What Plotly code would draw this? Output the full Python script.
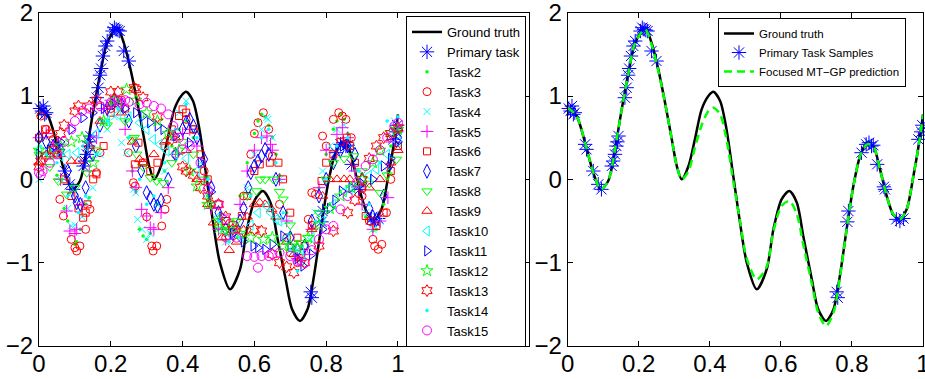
import plotly.graph_objects as go

# ---------------- data ----------------
gt_x = [0, 0.025, 0.049, 0.072, 0.093, 0.114, 0.133, 0.152, 0.171, 0.19, 0.218, 0.236, 0.255, 0.274, 0.293,
        0.307, 0.321, 0.34, 0.358, 0.377, 0.396, 0.41, 0.429, 0.447, 0.466, 0.485, 0.504, 0.532, 0.56, 0.579,
        0.602, 0.624, 0.645, 0.663, 0.687, 0.705, 0.727, 0.748, 0.766, 0.785, 0.804, 0.823, 0.842, 0.86, 0.879,
        0.898, 0.916, 0.935, 0.954, 0.973, 0.992, 1.0]
gt_y = [0.86, 0.76, 0.44, 0.08, -0.12, -0.02, 0.36, 0.84, 1.28, 1.64, 1.82, 1.64, 1.32, 0.92, 0.48,
        0.16, 0.0, 0.16, 0.48, 0.84, 1.0, 1.05, 0.94, 0.6, 0.04, -0.52, -1.0, -1.32, -1.08, -0.6,
        -0.24, -0.14, -0.28, -0.68, -1.2, -1.56, -1.70, -1.56, -1.16, -0.6, -0.08, 0.28, 0.44, 0.4, 0.12,
        -0.2, -0.42, -0.48, -0.36, 0.04, 0.52, 0.78]
pred_y = [0.86, 0.76, 0.44, 0.08, -0.12, -0.02, 0.36, 0.84, 1.28, 1.64, 1.80, 1.62, 1.30, 0.92, 0.48,
          0.16, 0.0, 0.10, 0.38, 0.65, 0.82, 0.86, 0.78, 0.48, -0.02, -0.5, -0.95, -1.2, -1.05, -0.62,
          -0.32, -0.26, -0.42, -0.78, -1.25, -1.6, -1.76, -1.6, -1.18, -0.6, -0.08, 0.28, 0.42, 0.4, 0.12,
          -0.2, -0.42, -0.48, -0.36, 0.04, 0.52, 0.78]

prim_x = [0.003, 0.008, 0.012, 0.016, 0.02, 0.049, 0.053, 0.072, 0.086, 0.095, 0.124, 0.128, 0.133, 0.137,
          0.14, 0.143, 0.161, 0.166, 0.17, 0.173, 0.178, 0.185, 0.19, 0.205, 0.21, 0.215, 0.22, 0.225, 0.236,
          0.25, 0.757, 0.76, 0.787, 0.79, 0.827, 0.84, 0.848, 0.855, 0.86, 0.871, 0.89, 0.893, 0.925, 0.935,
          0.945, 0.987, 0.995, 0.998]
prim_y = [0.85, 0.82, 0.88, 0.78, 0.80, 0.42, 0.36, 0.10, -0.06, -0.12, 0.16, 0.22, 0.30, 0.40,
          0.45, 0.52, 0.98, 1.10, 1.25, 1.33, 1.48, 1.60, 1.66, 1.78, 1.82, 1.80, 1.79, 1.78, 1.54,
          1.42, -1.35, -1.42, -0.51, -0.38, 0.32, 0.42, 0.44, 0.40, 0.41, 0.18, -0.09, -0.12, -0.48, -0.50,
          -0.47, 0.48, 0.57, 0.65]

t2_x = [0.0, 0.01, 0.03, 0.05, 0.07, 0.08, 0.1, 0.105, 0.115, 0.13, 0.14, 0.16, 0.18, 0.2, 0.22, 0.24, 0.26, 0.27,
        0.28, 0.29, 0.3, 0.31, 0.33, 0.35, 0.37, 0.39, 0.41, 0.43, 0.45, 0.47, 0.5, 0.52, 0.54, 0.56, 0.58, 0.6,
        0.61, 0.62, 0.63, 0.64, 0.65, 0.66, 0.67, 0.69, 0.7, 0.72, 0.74, 0.76, 0.78, 0.8, 0.82, 0.83, 0.84, 0.85,
        0.86, 0.88, 0.9, 0.91, 0.93, 0.94, 0.96, 0.97, 0.98, 1.0]
t2_y = [0.45, 0.5, 0.4, 0.05, -0.35, -0.5, -0.78, -0.75, -0.6, -0.3, -0.22, 0.3, 0.7, 0.92, 0.95, 0.7, 0.1, -0.15,
        -0.6, -0.68, -0.72, -0.65, -0.3, 0.1, 0.4, 0.6, 0.7, 0.5, 0.15, -0.2, -0.5, -0.6, -0.5, -0.2, 0.2, 0.55,
        0.7, 0.78, 0.75, 0.65, 0.5, 0.3, 0.05, -0.4, -0.65, -0.95, -0.9, -0.6, -0.1, 0.3, 0.6, 0.7, 0.78, 0.72,
        0.55, 0.1, -0.3, -0.45, -0.62, -0.6, -0.3, 0.0, 0.4, 0.6]

t3_x = [0.005, 0.02, 0.04, 0.058, 0.068, 0.09, 0.1, 0.105, 0.114, 0.13, 0.142, 0.16, 0.17, 0.2, 0.23, 0.249, 0.263,
        0.268, 0.3, 0.314, 0.318, 0.328, 0.342, 0.351, 0.356, 0.38, 0.41, 0.43, 0.46, 0.48, 0.5, 0.52, 0.55, 0.57,
        0.59, 0.6, 0.61, 0.625, 0.64, 0.65, 0.67, 0.69, 0.7, 0.72, 0.73, 0.75, 0.76, 0.77, 0.79, 0.8, 0.82, 0.835,
        0.845, 0.855, 0.87, 0.9, 0.92, 0.93, 0.935, 0.945, 0.955, 0.968, 0.98, 1.0]
t3_y = [0.76, 0.6, 0.48, -0.24, -0.44, -0.72, -0.82, -0.86, -0.8, -0.6, -0.36, 0.08, 0.32, 0.85, 0.95, 0.32, -0.04,
        -0.08, -0.45, -0.8, -0.86, -0.8, -0.56, -0.36, -0.24, 0.3, 0.72, 0.6, 0.1, -0.3, -0.55, -0.7, -0.6, -0.2,
        0.3, 0.55, 0.68, 0.8, 0.6, 0.28, -0.3, -0.7, -0.88, -1.0, -0.98, -0.48, -0.16, -0.18, 0.52, 0.4, 0.72, 0.8,
        0.76, 0.72, 0.5, -0.2, -0.5, -0.72, -0.8, -0.84, -0.78, -0.4, 0.0, 0.6]

t4_x = [0.0, 0.02, 0.04, 0.06, 0.08, 0.09, 0.1, 0.12, 0.137, 0.15, 0.17, 0.19, 0.21, 0.23, 0.244, 0.263, 0.27, 0.275,
        0.287, 0.3, 0.31, 0.33, 0.35, 0.37, 0.39, 0.41, 0.43, 0.45, 0.48, 0.5, 0.52, 0.55, 0.58, 0.6, 0.62, 0.634,
        0.638, 0.65, 0.67, 0.69, 0.71, 0.73, 0.75, 0.77, 0.79, 0.81, 0.83, 0.85, 0.87, 0.89, 0.91, 0.93, 0.95,
        0.97, 0.99]
t4_y = [0.0, 0.35, 0.3, 0.0, -0.35, -0.56, -0.55, -0.45, -0.24, -0.1, 0.3, 0.6, 0.75, 0.44, 0.32, -0.12, -0.16,
        -0.48, -0.6, -0.72, -0.65, -0.3, 0.1, 0.5, 0.8, 0.94, 0.6, 0.2, -0.3, -0.6, -0.75, -0.6, -0.1, 0.3, 0.6,
        0.74, 0.72, 0.5, 0.0, -0.5, -0.85, -1.0, -0.8, -0.4, 0.1, 0.4, 0.6, 0.65, 0.4, 0.0, -0.4, -0.6, -0.5,
        0.1, 0.7]

t5_x = [0.0, 0.02, 0.04, 0.06, 0.077, 0.086, 0.1, 0.105, 0.12, 0.14, 0.16, 0.18, 0.2, 0.22, 0.24, 0.26, 0.27,
        0.286, 0.3, 0.31, 0.32, 0.34, 0.36, 0.38, 0.4, 0.42, 0.44, 0.46, 0.48, 0.5, 0.52, 0.54, 0.56, 0.58, 0.6,
        0.62, 0.635, 0.645, 0.65, 0.67, 0.69, 0.71, 0.72, 0.74, 0.76, 0.78, 0.8, 0.83, 0.845, 0.86, 0.88, 0.9,
        0.93, 0.95, 0.972, 0.99]
t5_y = [0.5, 0.55, 0.4, 0.0, -0.38, -0.62, -0.65, -0.6, -0.3, 0.1, 0.5, 0.85, 0.95, 0.9, 0.6, 0.1, -0.1,
        -0.36, -0.44, -0.58, -0.6, -0.4, -0.1, 0.3, 0.55, 0.6, 0.4, 0.0, -0.35, -0.6, -0.72, -0.6, -0.3, 0.1, 0.35,
        0.5, 0.52, 0.42, 0.35, 0.0, -0.5, -0.85, -0.95, -0.9, -0.6, -0.1, 0.35, 0.54, 0.62, 0.5, 0.1, -0.3,
        -0.6, -0.5, -0.22, 0.45]

t6_x = [0.0, 0.017, 0.03, 0.05, 0.07, 0.09, 0.11, 0.123, 0.13, 0.135, 0.151, 0.16, 0.18, 0.2, 0.22, 0.24, 0.267,
        0.277, 0.29, 0.31, 0.33, 0.35, 0.37, 0.39, 0.4, 0.41, 0.43, 0.45, 0.47, 0.5, 0.52, 0.54, 0.565, 0.58, 0.6,
        0.615, 0.643, 0.667, 0.68, 0.7, 0.72, 0.74, 0.76, 0.787, 0.8, 0.82, 0.84, 0.857, 0.866, 0.88, 0.9, 0.91,
        0.925, 0.94, 0.96, 0.98, 1.0]
t6_y = [0.5, 0.6, 0.55, 0.3, 0.0, -0.2, -0.35, -0.46, -0.4, -0.3, 0.0, 0.06, 0.4, 0.8, 0.95, 0.85, 0.18,
        0.44, 0.2, 0.1, 0.2, 0.4, 0.6, 0.76, 0.84, 0.8, 0.6, 0.3, 0.0, -0.3, -0.5, -0.55, -0.44, -0.2, 0.1,
        0.18, 0.2, 0.2, 0.0, -0.4, -0.7, -0.8, -0.55, -0.02, 0.2, 0.3, 0.45, 0.5, 0.4, 0.2, -0.1, -0.44,
        -0.5, -0.56, -0.4, 0.1, 0.4]

t7_x = [0.0, 0.02, 0.04, 0.06, 0.08, 0.1, 0.105, 0.115, 0.13, 0.15, 0.17, 0.19, 0.21, 0.23, 0.25, 0.27, 0.285, 0.3,
        0.31, 0.32, 0.33, 0.34, 0.36, 0.38, 0.4, 0.41, 0.42, 0.43, 0.44, 0.46, 0.48, 0.5, 0.52, 0.54, 0.56, 0.57,
        0.583, 0.59, 0.6, 0.61, 0.62, 0.63, 0.64, 0.66, 0.68, 0.7, 0.72, 0.74, 0.76, 0.78, 0.8, 0.82, 0.84, 0.86,
        0.88, 0.9, 0.92, 0.93, 0.94, 0.96, 0.98, 1.0]
t7_y = [0.5, 0.45, 0.4, 0.35, 0.1, -0.2, -0.28, -0.3, -0.1, 0.3, 0.65, 0.85, 0.95, 0.9, 0.7, 0.4, 0.1, -0.16,
        -0.22, -0.3, -0.32, -0.25, 0.0, 0.3, 0.6, 0.68, 0.72, 0.64, 0.5, 0.24, -0.1, -0.4, -0.6, -0.65, -0.5, -0.35,
        -0.1, 0.08, 0.16, 0.22, 0.28, 0.36, 0.3, 0.0, -0.4, -0.7, -0.85, -0.8, -0.5, -0.2, 0.0, 0.2, 0.35, 0.4,
        0.3, 0.0, -0.35, -0.45, -0.48, -0.2, 0.2, 0.5]

t8_x = [0.0, 0.03, 0.054, 0.077, 0.1, 0.133, 0.16, 0.19, 0.22, 0.24, 0.258, 0.265, 0.272, 0.29, 0.31, 0.328, 0.346,
        0.37, 0.4, 0.43, 0.46, 0.48, 0.504, 0.52, 0.55, 0.58, 0.606, 0.616, 0.63, 0.653, 0.67, 0.68, 0.7, 0.727,
        0.75, 0.78, 0.8, 0.82, 0.85, 0.876, 0.9, 0.92, 0.95, 0.97, 0.996]
t8_y = [0.3, 0.15, -0.02, -0.18, -0.1, 0.08, 0.35, 0.65, 0.9, 0.7, 0.48, 0.5, 0.3, 0.15, 0.02, -0.02, -0.04,
        0.2, 0.45, 0.3, 0.0, -0.3, -0.6, -0.62, -0.5, -0.2, -0.14, 0.0, 0.0, 0.0, -0.15, -0.24, -0.55, -0.76,
        -0.7, -0.4, 0.0, 0.2, 0.25, 0.28, 0.1, -0.05, -0.16, 0.05, 0.24]

t9_x = [0.0, 0.03, 0.06, 0.09, 0.11, 0.14, 0.17, 0.2, 0.23, 0.26, 0.28, 0.29, 0.32, 0.35, 0.38, 0.41, 0.44, 0.47,
        0.486, 0.51, 0.53, 0.55, 0.58, 0.6, 0.615, 0.63, 0.648, 0.66, 0.69, 0.71, 0.73, 0.76, 0.79, 0.81, 0.83,
        0.85, 0.866, 0.89, 0.92, 0.95, 0.98, 1.0]
t9_y = [0.2, 0.3, 0.3, 0.22, 0.22, 0.4, 0.7, 0.9, 0.8, 0.45, 0.24, 0.2, 0.3, 0.45, 0.5, 0.35, 0.0, -0.3,
        -0.52, -0.7, -0.85, -0.75, -0.45, -0.3, -0.28, -0.3, -0.36, -0.45, -0.75, -0.9, -0.95, -0.6, -0.2, 0.0, 0.0,
        0.0, 0.0, -0.05, -0.1, 0.0, 0.2, 0.35]

t10_x = [0.0, 0.03, 0.06, 0.08, 0.105, 0.13, 0.16, 0.19, 0.22, 0.25, 0.28, 0.3, 0.318, 0.336, 0.356, 0.38, 0.41,
         0.44, 0.47, 0.5, 0.53, 0.56, 0.59, 0.61, 0.634, 0.645, 0.66, 0.67, 0.69, 0.71, 0.73, 0.76, 0.79, 0.82,
         0.85, 0.866, 0.89, 0.92, 0.94, 0.97, 1.0]
t10_y = [0.35, 0.3, 0.28, 0.3, 0.32, 0.4, 0.55, 0.7, 0.78, 0.75, 0.68, 0.6, 0.48, 0.42, 0.34, 0.3, 0.25,
         0.1, -0.2, -0.45, -0.65, -0.7, -0.55, -0.4, -0.32, -0.4, -0.48, -0.5, -0.7, -0.85, -0.85, -0.7, -0.5, -0.3,
         -0.15, -0.12, -0.05, 0.05, 0.12, 0.3, 0.45]

t11_x = [0.0, 0.03, 0.06, 0.09, 0.123, 0.15, 0.18, 0.21, 0.24, 0.27, 0.29, 0.309, 0.33, 0.346, 0.38, 0.42, 0.45,
         0.48, 0.51, 0.54, 0.57, 0.597, 0.61, 0.63, 0.65, 0.68, 0.7, 0.72, 0.736, 0.76, 0.79, 0.81, 0.825, 0.843,
         0.87, 0.9, 0.93, 0.96, 0.98, 1.0]
t11_y = [0.3, 0.35, 0.45, 0.6, 0.74, 0.8, 0.85, 0.9, 0.85, 0.8, 0.76, 0.68, 0.64, 0.6, 0.52, 0.44, 0.2,
         -0.15, -0.45, -0.65, -0.75, -0.8, -0.82, -0.84, -0.78, -0.68, -0.8, -0.95, -1.04, -0.9, -0.6, -0.35, -0.25,
         -0.14, -0.1, -0.05, 0.0, 0.16, 0.25, 0.45]

t12_x = [0.0, 0.03, 0.06, 0.09, 0.12, 0.151, 0.18, 0.21, 0.244, 0.27, 0.3, 0.33, 0.36, 0.39, 0.42, 0.44, 0.47,
         0.5, 0.53, 0.56, 0.59, 0.625, 0.65, 0.68, 0.7, 0.72, 0.75, 0.78, 0.81, 0.84, 0.87, 0.9, 0.93, 0.95,
         0.98, 1.0]
t12_y = [0.35, 0.3, 0.4, 0.45, 0.5, 0.2, 0.7, 0.95, 1.08, 0.95, 0.8, 0.7, 0.55, 0.35, 0.1, -0.08, -0.3,
         -0.5, -0.6, -0.65, -0.7, -0.72, -0.7, -0.8, -0.8, -0.82, -0.7, -0.55, -0.35, -0.2, -0.1, 0.0, 0.2, 0.35,
         0.56, 0.6]

t13_x = [0.0, 0.005, 0.02, 0.04, 0.06, 0.07, 0.1, 0.11, 0.14, 0.16, 0.2, 0.22, 0.265, 0.27, 0.29, 0.33, 0.37,
         0.4, 0.41, 0.43, 0.45, 0.47, 0.5, 0.52, 0.54, 0.57, 0.6, 0.62, 0.65, 0.67, 0.69, 0.71, 0.74, 0.78,
         0.82, 0.86, 0.88, 0.9, 0.92, 0.94, 0.96, 0.98, 1.0]
t13_y = [0.15, 0.22, 0.28, 0.35, 0.55, 0.65, 0.82, 0.88, 0.88, 0.95, 1.05, 1.05, 1.1, 1.08, 0.98, 0.75, 0.48,
         0.15, 0.1, 0.05, -0.1, -0.2, -0.3, -0.45, -0.6, -0.62, -0.6, -0.62, -0.9, -1.0, -1.05, -1.12, -1.0, -0.8,
         -0.62, -0.4, -0.25, 0.0, 0.25, 0.4, 0.5, 0.55, 0.62]

t14_x = [0.0, 0.02, 0.05, 0.08, 0.11, 0.13, 0.16, 0.19, 0.22, 0.25, 0.28, 0.3, 0.32, 0.35, 0.38, 0.41, 0.44, 0.47,
         0.5, 0.53, 0.56, 0.59, 0.62, 0.64, 0.66, 0.68, 0.7, 0.72, 0.74, 0.77, 0.8, 0.83, 0.86, 0.89, 0.92, 0.95,
         0.97, 1.0]
t14_y = [0.4, 0.3, 0.2, -0.2, -0.4, -0.2, 0.3, 0.7, 0.85, 0.5, 0.0, -0.3, -0.2, 0.2, 0.6, 0.9, 0.5, 0.0,
         -0.5, -0.75, -0.7, -0.2, 0.5, 0.6, 0.2, -0.4, -0.85, -1.1, -0.95, -0.5, 0.0, 0.4, 0.5, 0.1, -0.3, 0.2,
         0.7, 0.75]

t15_x = [0.0, 0.005, 0.01, 0.03, 0.05, 0.07, 0.09, 0.1, 0.12, 0.14, 0.17, 0.2, 0.22, 0.23, 0.24, 0.25, 0.28, 0.3,
         0.32, 0.34, 0.36, 0.374, 0.39, 0.4, 0.42, 0.45, 0.47, 0.5, 0.52, 0.55, 0.58, 0.6, 0.61, 0.62, 0.64, 0.65,
         0.67, 0.7, 0.72, 0.74, 0.76, 0.78, 0.8, 0.82, 0.84, 0.86, 0.885, 0.91, 0.93, 0.95, 0.97, 0.99, 1.0]
t15_y = [0.08, 0.05, 0.1, 0.2, 0.3, 0.45, 0.6, 0.7, 0.82, 0.85, 0.88, 0.92, 0.95, 0.92, 0.95, 0.93, 0.9, 0.92,
         0.88, 0.85, 0.78, 0.64, 0.5, 0.36, 0.4, 0.2, -0.12, -0.3, -0.48, -0.7, -0.92, -0.93, -1.06, -0.92, -0.92,
         -0.9, -0.88, -0.92, -0.98, -1.0, -0.85, -0.72, -0.6, -0.56, -0.36, -0.2, -0.04, 0.16, 0.24, 0.35, 0.5,
         0.64, 0.68]

x_ticks = [0, 0.2, 0.4, 0.6, 0.8, 1]
x_tick_text = ["0", "0.2", "0.4", "0.6", "0.8", "1"]
y_ticks = [-2, -1, 0, 1, 2]

# ---------------- styles ----------------
BLUE, GREEN, RED, CYAN, MAG = "#0000ff", "#00ff00", "#ff0000", "#00ffff", "#ff00ff"
FONT = "Liberation Sans, Arial, Helvetica, sans-serif"

tasks = [
    ("Task2", t2_x, t2_y, "circle", GREEN, 3.5, True),
    ("Task3", t3_x, t3_y, "circle-open", RED, 8, False),
    ("Task4", t4_x, t4_y, "x-thin-open", CYAN, 7, False),
    ("Task5", t5_x, t5_y, "cross-thin-open", MAG, 9, False),
    ("Task6", t6_x, t6_y, "square-open", RED, 7, False),
    ("Task7", t7_x, t7_y, "diamond-tall-open", BLUE, 10, False),
    ("Task8", t8_x, t8_y, "triangle-down-open", GREEN, 9, False),
    ("Task9", t9_x, t9_y, "triangle-up-open", RED, 9, False),
    ("Task10", t10_x, t10_y, "triangle-left-open", CYAN, 9, False),
    ("Task11", t11_x, t11_y, "triangle-right-open", BLUE, 9, False),
    ("Task12", t12_x, t12_y, "star-open", GREEN, 9, False),
    ("Task13", t13_x, t13_y, "hexagram-open", RED, 9, False),
    ("Task14", t14_x, t14_y, "circle", CYAN, 3.5, True),
    ("Task15", t15_x, t15_y, "circle-open", MAG, 9, False),
]

fig = go.Figure()

# left panel
fig.add_trace(go.Scatter(x=gt_x, y=gt_y, mode="lines", name="Ground truth",
                         line=dict(color="black", width=2.5, shape="spline", smoothing=0.8),
                         xaxis="x", yaxis="y", legend="legend"))
fig.add_trace(go.Scatter(x=prim_x, y=prim_y, mode="markers", name="Primary task",
                         marker=dict(symbol="asterisk-open", size=12, color=BLUE, line=dict(color=BLUE, width=1)),
                         xaxis="x", yaxis="y", legend="legend", cliponaxis=False))
for name, xs, ys, sym, col, sz, filled in tasks:
    if filled:
        mk = dict(symbol=sym, size=sz, color=col, line=dict(width=0))
    else:
        mk = dict(symbol=sym, size=sz, color=col, line=dict(color=col, width=1))
    fig.add_trace(go.Scatter(x=xs, y=ys, mode="markers", name=name, marker=mk,
                             xaxis="x", yaxis="y", legend="legend", cliponaxis=False))

# right panel
fig.add_trace(go.Scatter(x=gt_x, y=gt_y, mode="lines", name="Ground truth",
                         line=dict(color="black", width=2.5, shape="spline", smoothing=0.8),
                         xaxis="x2", yaxis="y2", legend="legend2"))
fig.add_trace(go.Scatter(x=prim_x, y=prim_y, mode="markers", name="Primary Task Samples",
                         marker=dict(symbol="asterisk-open", size=12, color=BLUE, line=dict(color=BLUE, width=1)),
                         xaxis="x2", yaxis="y2", legend="legend2", cliponaxis=False))
fig.add_trace(go.Scatter(x=gt_x, y=pred_y, mode="lines", name="Focused MT\u2212GP prediction",
                         line=dict(color=GREEN, width=2.5, dash="8px,5px", shape="spline", smoothing=0.8),
                         xaxis="x2", yaxis="y2", legend="legend2"))

axis_common = dict(showline=True, linecolor="black", linewidth=1, mirror="ticks", ticks="inside",
                   ticklen=5, tickcolor="black", showgrid=False, zeroline=False, automargin=False,
                   ticklabeloverflow="allow",
                   tickfont=dict(family=FONT, size=24, color="black"))
xaxis_extra = dict(ticklabelstandoff=-4)
ydom = [33 / 379, 1 - 12.7 / 379]

fig.update_layout(
    width=925, height=379, autosize=False,
    margin=dict(l=0, r=0, t=0, b=0, autoexpand=False),
    paper_bgcolor="white", plot_bgcolor="white",
    font=dict(family=FONT, color="black"),
    xaxis=dict(domain=[39 / 925, 529 / 925], range=[0, 1.365], tickvals=x_ticks, ticktext=x_tick_text,
               anchor="y", **axis_common, **xaxis_extra),
    yaxis=dict(domain=ydom, range=[-2, 2], tickvals=y_ticks, anchor="x", **axis_common),
    xaxis2=dict(domain=[567.7 / 925, 923 / 925], range=[0, 1], tickvals=x_ticks, ticktext=x_tick_text,
                anchor="y2", **axis_common, **xaxis_extra),
    yaxis2=dict(domain=ydom, range=[-2, 2], tickvals=y_ticks, anchor="x2", **axis_common),
    legend=dict(x=406 / 925, y=1 - 16 / 379, xanchor="left", yanchor="top", bgcolor="white",
                bordercolor="black", borderwidth=1, font=dict(family=FONT, size=13, color="black"),
                itemwidth=30, tracegroupgap=0),
    legend2=dict(x=718 / 925, y=1 - 18 / 379, xanchor="left", yanchor="top", bgcolor="white",
                 bordercolor="black", borderwidth=1, font=dict(family=FONT, size=11.5, color="black"),
                 itemwidth=30, tracegroupgap=0),
    showlegend=True,
)

fig.write_html("out.html")
